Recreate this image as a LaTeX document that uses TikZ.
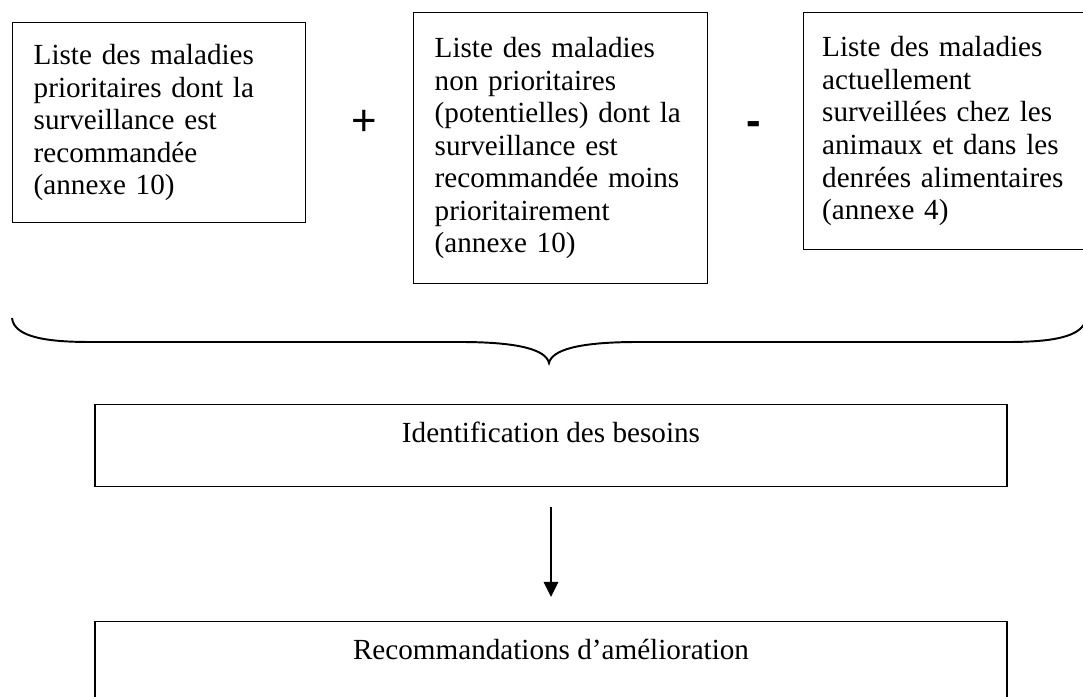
\documentclass[tikz,border=0pt]{standalone}
\usepackage{fontspec}
\setmainfont{Liberation Serif}
\newfontfamily\signfont{Liberation Sans}
\usetikzlibrary{arrows.meta}
\tikzset{%
  >={Triangle[length=6.2pt,width=6pt]}, % default arrow style
  liste/.style={draw,line width=0.6pt,anchor=north west,align=left,
    inner ysep=0pt,font=\fontsize{12}{13.4}\selectfont},
  etape/.style={draw,line width=0.6pt,anchor=north,align=center,
    inner sep=0pt,text height=15.6pt,text depth=18.1pt,
    minimum width=375.3pt,font=\fontsize{12}{13.4}\selectfont},
  signe/.style={inner sep=0pt,font=\signfont\fontsize{18}{18}\selectfont}
}

\begin{document}
\begin{tikzpicture}[x=0.4115pt,y=-0.4115pt]
  \useasboundingbox (0,0) rectangle (1083,697);
  % lists
  \node[liste,inner xsep=8.64pt,text width=103.3pt,minimum height=82.3pt]
    (prio) at (12,22) {Liste des maladies\\prioritaires dont la\\surveillance est\\recommandée\\(annexe 10)};
  \node[liste,inner xsep=8.64pt,text width=103.7pt,minimum height=111.5pt]
    (nonprio) at (413,12) {Liste des maladies\\non prioritaires\\(potentielles) dont la\\surveillance est\\recommandée moins\\prioritairement\\(annexe 10)};
  \node[liste,inner xsep=7.6pt,text width=100pt,minimum height=97.5pt]
    (actuel) at (803,12) {Liste des maladies\\actuellement\\surveillées chez les\\animaux et dans les\\denrées alimentaires\\(annexe 4)};
  % signs
  \node[signe] (plus) at (364,123) {+};
  \node[signe] (moins) at (753.5,129) {\bfseries -};
  % brace
  \coordinate (accG) at (12,318);
  \coordinate (accD) at (1086,318);
  \coordinate (pointe) at (549,363);
  \draw[line width=0.8pt] (accG) .. controls (14,338) and (50,342) .. (90,342)
    -- (460,342) .. controls (520,342) and (546,350) .. (pointe)
    .. controls (552,350) and (578,342) .. (638,342)
    -- (1008,342) .. controls (1048,342) and (1084,338) .. (accD);
  % steps
  \node[etape] (besoins) at (551,404) {Identification des besoins};
  \node[etape] (recomm) at (551,621) {Recommandations d’amélioration};
  % arrow
  \draw[->,line width=0.6pt,shorten <=8.2pt,shorten >=9.9pt] (besoins) -- (recomm);
\end{tikzpicture}
\end{document}
